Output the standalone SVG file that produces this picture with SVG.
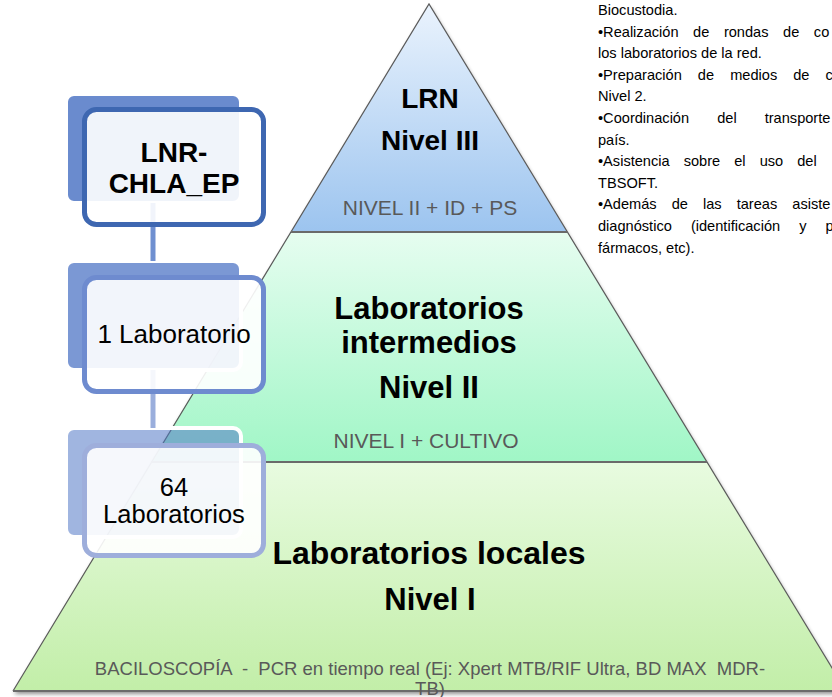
<svg xmlns="http://www.w3.org/2000/svg" width="832" height="697" viewBox="0 0 832 697">
<style>
.b{font-family:"Liberation Sans",Arial,sans-serif;font-weight:bold;fill:#000;text-anchor:middle;}
.g{font-family:"Liberation Sans",Arial,sans-serif;fill:#595959;text-anchor:middle;white-space:pre;}
.bx{font-family:"Liberation Sans",Arial,sans-serif;fill:#000;text-anchor:middle;}
.side{font-family:"Liberation Sans",Arial,sans-serif;font-size:14.6px;fill:#000;white-space:pre;}
.edge{stroke:#5a5a5a;stroke-width:1.2;fill:none;}
.div{stroke:#6a6a6a;stroke-width:2;}
.back{stroke:#fff;stroke-width:4;}
.front{fill:#fff;fill-opacity:0.9;stroke-width:5;}
</style>
<defs>
<linearGradient id="gTop" x1="0" y1="0" x2="0" y2="1">
<stop offset="0" stop-color="#eaf3fd"/>
<stop offset="1" stop-color="#9cc4ef"/>
</linearGradient>
<linearGradient id="gMid" x1="0" y1="0" x2="0" y2="1">
<stop offset="0" stop-color="#e6fdf0"/>
<stop offset="1" stop-color="#a0f6c6"/>
</linearGradient>
<linearGradient id="gBot" x1="0" y1="0" x2="0" y2="1">
<stop offset="0" stop-color="#e8fbe0"/>
<stop offset="1" stop-color="#c2eea8"/>
</linearGradient>
<filter id="sh" x="-10%" y="-10%" width="120%" height="130%">
<feGaussianBlur in="SourceAlpha" stdDeviation="2"/>
<feOffset dx="1" dy="3" result="o"/>
<feComponentTransfer><feFuncA type="linear" slope="0.45"/></feComponentTransfer>
<feMerge><feMergeNode/><feMergeNode in="SourceGraphic"/></feMerge>
</filter>
</defs>

<!-- side text -->
<g id="side-text" class="side">
<text x="598" y="15">Biocustodia.</text>
<text x="598" y="37" word-spacing="10.5">•Realización de rondas de co</text>
<text x="598" y="58">los laboratorios de la red.</text>
<text x="598" y="80" word-spacing="12">•Preparación de medios de c</text>
<text x="598" y="101">Nivel 2.</text>
<text x="598" y="123" word-spacing="24">•Coordinación del transporte</text>
<text x="598" y="145">país.</text>
<text x="598" y="166" word-spacing="10">•Asistencia  sobre el uso del</text>
<text x="598" y="188">TBSOFT.</text>
<text x="598" y="209" word-spacing="11">•Además de las tareas asiste</text>
<text x="598" y="231" word-spacing="15">diagnóstico (identificación y p</text>
<text x="598" y="253">fármacos, etc).</text>
</g>

<!-- pyramid -->
<g id="pyramid" filter="url(#sh)">
<g id="level3">
<polygon points="429,4 567,232 291,232" fill="url(#gTop)"/>
</g>
<g id="level2">
<polygon points="291,232 567,232 707,462 151,462" fill="url(#gMid)"/>
</g>
<g id="level1">
<polygon points="151,462 707,462 846,691 13,691" fill="url(#gBot)"/>
</g>
</g>
<polyline class="edge" points="13,691 429,4 846,691"/>
<line class="div" x1="13" y1="691" x2="846" y2="691"/>
<line class="div" x1="291" y1="232" x2="567" y2="232"/>
<line class="div" x1="151" y1="462" x2="707" y2="462"/>

<g id="level3-text">
<text class="b" x="430" y="108" font-size="28">LRN</text>
<text class="b" x="430" y="150" font-size="28">Nivel III</text>
<text class="g" x="430" y="215" font-size="21">NIVEL II + ID + PS</text>
</g>
<g id="level2-text">
<text class="b" x="429" y="319" font-size="31">Laboratorios</text>
<text class="b" x="429" y="353" font-size="31">intermedios</text>
<text class="b" x="429" y="398" font-size="31">Nivel II</text>
<text class="g" x="426" y="448" font-size="21">NIVEL I + CULTIVO</text>
</g>
<g id="level1-text">
<text class="b" x="429" y="564" font-size="32">Laboratorios locales</text>
<text class="b" x="430" y="610" font-size="31">Nivel I</text>
<text class="g" x="430" y="675" font-size="18.5">BACILOSCOPÍA  -  PCR en tiempo real (Ej: Xpert MTB/RIF Ultra, BD MAX  MDR-</text>
<text class="g" x="430" y="695" font-size="18.5">TB)</text>
</g>

<!-- back rects -->
<g id="back-shapes">
<rect class="back" x="66" y="94" width="175" height="109" rx="8" fill="#5278c6" fill-opacity="0.86"/>
<rect class="back" x="66" y="261" width="175" height="109" rx="8" fill="#5278c6" fill-opacity="0.76"/>
<rect class="back" x="66" y="428" width="175" height="109" rx="8" fill="#5278c6" fill-opacity="0.55"/>
</g>

<!-- connectors -->
<g id="connectors">
<line x1="153" y1="203" x2="153" y2="261" stroke="#6f8fd0" stroke-width="5"/>
<line x1="153" y1="370" x2="153" y2="428" stroke="#9aaedc" stroke-width="5"/>
</g>

<g id="node-lnr">
<rect class="front" x="84.5" y="109.5" width="179" height="115" rx="12" stroke="#3e67b1"/>
<text class="b" x="174" y="162" font-size="28">LNR-</text>
<text class="b" x="174" y="193" font-size="28">CHLA_EP</text>
</g>
<g id="node-1lab">
<rect class="front" x="84.5" y="277.5" width="179" height="114" rx="12" stroke="#6e8bcf"/>
<text class="bx" x="174" y="343" font-size="26">1 Laboratorio</text>
</g>
<g id="node-64lab">
<rect class="front" x="84.5" y="445.5" width="179" height="110" rx="12" stroke="#9eaedb"/>
<text class="bx" x="174" y="496" font-size="25.5">64</text>
<text class="bx" x="174" y="523" font-size="25.5">Laboratorios</text>
</g>
</svg>
